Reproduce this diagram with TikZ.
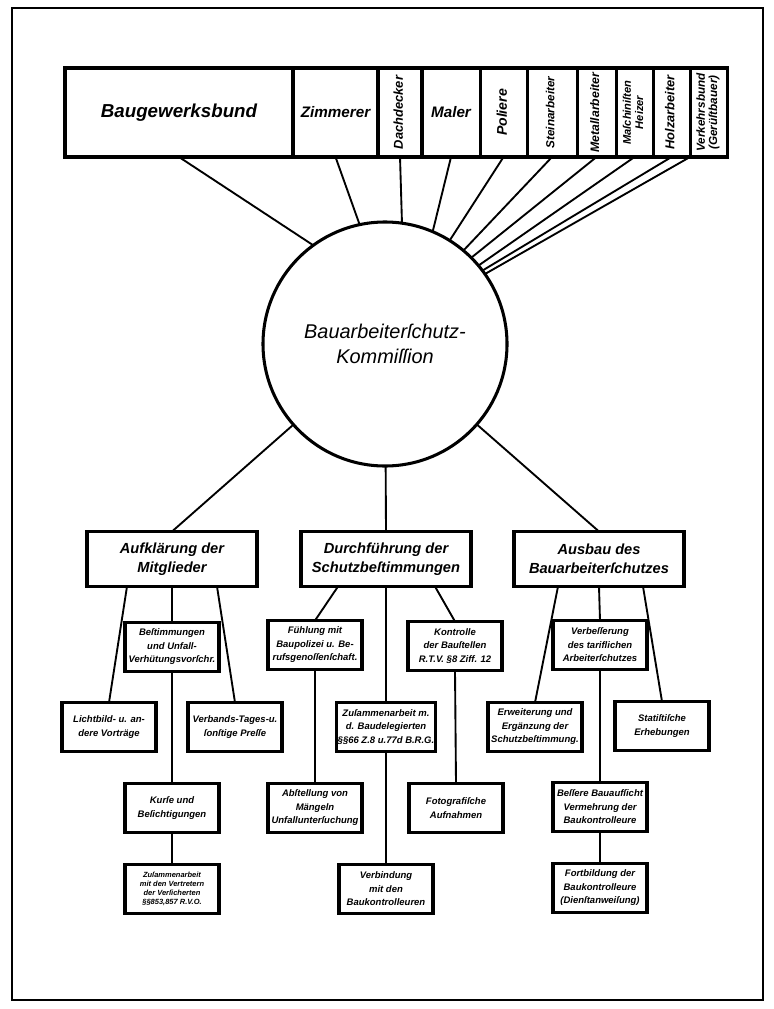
\documentclass[tikz,border=0pt]{standalone}
\usepackage{fontspec}
\setmainfont{Liberation Sans}
\usepackage{graphicx}
\usetikzlibrary{positioning}
\newcommand{\uprot}[1]{\rotatebox{90}{\begin{tabular}{@{}c@{}}#1\end{tabular}}}

\begin{document}
\begin{tikzpicture}[x=0.03cm,y=-0.03cm,
        top node/.style={draw,line width=2.6pt,outer sep=0pt,inner sep=0pt,minimum height=2.67cm},
        lbl/.style={font=\fontsize{#1}{10.5}\selectfont\bfseries\itshape},
        head node/.style={draw,line width=3.2pt,outer sep=0pt,minimum width=5.1cm,minimum height=1.65cm,
          align=center,font=\fontsize{12.5}{16}\selectfont\bfseries\itshape},
        sub node/.style={draw,line width=3pt,outer sep=0pt,inner sep=1pt,minimum width=2.82cm,
          minimum height=1.47cm,align=center,font=\fontsize{8.1}{11.5}\selectfont\bfseries\itshape},
        link/.style={line width=1.6pt}]
        \useasboundingbox (0,0) rectangle (773,1009);
        \draw[line width=1.6pt] (12,8) rectangle (763,1000);

        \node[top node,minimum width=6.84cm,anchor=north west,lbl=16] (bgb) at (65,68) {Baugewerksbund};
        \node[top node,minimum width=2.55cm,right=0pt of bgb,lbl=13] (zim) {Zimmerer};
        \node[top node,minimum width=1.32cm,right=0pt of zim,lbl=11] (dach) {\uprot{Dachdecker}};
        \node[top node,minimum width=1.74cm,right=0pt of dach,lbl=13] (maler) {Maler};
        \node[top node,minimum width=1.41cm,right=0pt of maler,lbl=12] (pol) {\uprot{Poliere}};
        \node[top node,minimum width=1.50cm,right=0pt of pol,lbl=10] (stein) {\uprot{Steinarbeiter}};
        \node[top node,minimum width=1.17cm,right=0pt of stein,lbl=10.5] (metall) {\uprot{Metallarbeiter}};
        \node[top node,minimum width=1.11cm,right=0pt of metall,lbl=9.5] (masch) {\uprot{Maſchiniſten\\Heizer}};
        \node[top node,minimum width=1.11cm,right=0pt of masch,lbl=11] (holz) {\uprot{Holzarbeiter}};
        \node[top node,minimum width=1.11cm,right=0pt of holz,lbl=10] (verk) {\uprot{Verkehrsbund\\(Gerüſtbauer)}};

        \node[draw,circle,line width=2.6pt,outer sep=0pt,minimum size=7.32cm,align=center,
          font=\fontsize{17}{21}\selectfont\itshape] (circ) at (385,344) {Bauarbeiterſchutz-\\Kommiſſion};

        \node[head node] (auf) at (172,559) {Aufklärung der\\Mitglieder};
        \node[head node] (durch) at (386,559) {Durchführung der\\Schutzbeſtimmungen};
        \node[head node] (aus) at (599,559) {Ausbau des\\Bauarbeiterſchutzes};

        \node[sub node] (best) [below=1.08cm of auf] {Beſtimmungen\\und Unfall-\\Verhütungsvorſchr.};
        \node[sub node] (licht) at (109,727) {Lichtbild- u. an-\\dere Vorträge};
        \node[sub node] (verbp) at (235,727) {Verbands-Tages-u.\\ſonſtige Preſſe};
        \node[sub node] (kurse) at (172,808) {Kurſe und\\Beſichtigungen};
        \node[sub node,font=\fontsize{6.4}{7.6}\selectfont\bfseries\itshape] (zusl) [below=0.96cm of kurse]
          {Zuſammenarbeit\\mit den Vertretern\\der Verſicherten\\§§853,857 R.V.O.};

        \node[sub node] (fuehl) at (315,645) {Fühlung mit\\Baupolizei u. Be-\\rufsgenoſſenſchaft.};
        \node[sub node] (kontr) at (455,646) {Kontrolle\\der Bauſtellen\\R.T.V. §8 Ziff. 12};
        \node[sub node] (zusm) at (386,727) {Zuſammenarbeit m.\\d. Baudelegierten\\§§66 Z.8 u.77d B.R.G.};
        \node[sub node] (abst) at (315,808) {Abſtellung von\\Mängeln\\Unfallunterſuchung};
        \node[sub node] (foto) at (456,808) {Fotografiſche\\Aufnahmen};
        \node[sub node] (verbind) [below=3.39cm of zusm] {Verbindung\\mit den\\Baukontrolleuren};

        \node[sub node] (verb) at (600,645) {Verbeſſerung\\des tariflichen\\Arbeiterſchutzes};
        \node[sub node] (erw) at (535,727) {Erweiterung und\\Ergänzung der\\Schutzbeſtimmung.};
        \node[sub node] (stat) at (662,726) {Statiſtiſche\\Erhebungen};
        \node[sub node] (bess) at (600,807) {Beſſere Bauaufſicht\\Vermehrung der\\Baukontrolleure};
        \node[sub node] (fort) [below=0.96cm of bess] {Fortbildung der\\Baukontrolleure\\(Dienſtanweiſung)};

        \draw[link] (bgb.south) -- (circ.126.6);
        \draw[link] (zim.south) -- (circ.102.8);
        \draw[link] (dach.south) -- (circ.82.5);
        \draw[link] (maler.south) -- (circ.67.2);
        \draw[link] (pol.south) -- (circ.58.6);
        \draw[link] (stein.south) -- (circ.50.3);
        \draw[link] (metall.south) -- (circ.45);
        \draw[link] (masch.south) -- (circ.40.3);
        \draw[link] (holz.south) -- (circ.37);
        \draw[link] (verk.south west) -- (circ.35);

        \draw[link] (circ) -- (auf.north);
        \draw[link] (circ) -- (durch.north);
        \draw[link] (circ) -- (aus.north);

        \draw[link] ([xshift=-1.35cm]auf.south) -- (licht.north);
        \draw[link] (auf.south) -- (best.north);
        \draw[link] ([xshift=1.35cm]auf.south) -- (verbp.north);
        \draw[link] (best.south) -- (kurse.north);
        \draw[link] (kurse.south) -- (zusl.north);

        \draw[link] ([xshift=-1.44cm]durch.south) -- (fuehl.north);
        \draw[link] (durch.south) -- (zusm.north);
        \draw[link] ([xshift=1.47cm]durch.south) -- (kontr.north);
        \draw[link] (fuehl.south) -- (abst.north);
        \draw[link] (kontr.south) -- (foto.north);
        \draw[link] (zusm.south) -- (verbind.north);

        \draw[link] ([xshift=-1.23cm]aus.south) -- (erw.north);
        \draw[link] (aus.south) -- (verb.north);
        \draw[link] ([xshift=1.32cm]aus.south) -- (stat.north);
        \draw[link] (verb.south) -- (bess.north);
        \draw[link] (bess.south) -- (fort.north);
\end{tikzpicture}
\end{document}
